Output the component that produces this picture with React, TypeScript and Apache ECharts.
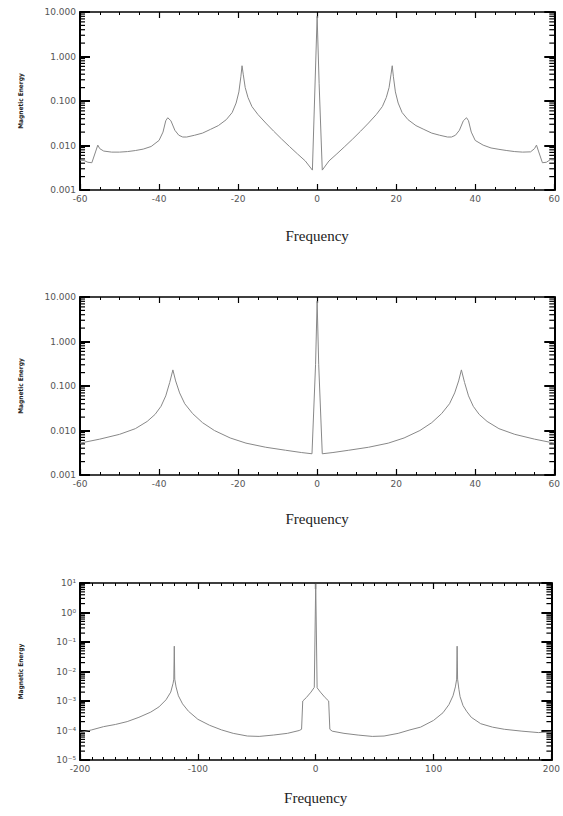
import React, { useEffect, useRef } from "react";
import * as echarts from "echarts";

// Panel 1 (top)
const P1_FREQ = [-60, -59, -58, -57, -56, -55.5, -55, -54, -52, -50, -48, -46, -44, -42, -40, -39, -38.3, -37.8, -37, -36, -35, -34, -33, -31, -29, -27, -25, -23, -21.5, -20.5, -19.8, -19.3, -19, -18.7, -18.2, -17.5, -16.5, -15, -13, -11, -9, -7, -5, -3, -1.2, 0, 0.5, 1.3, 3, 5, 7, 9, 11, 13, 15, 16.5, 17.5, 18.2, 18.7, 19, 19.3, 19.8, 20.5, 21.5, 23, 25, 27, 29, 31, 33, 34, 35, 36, 37, 37.8, 38.3, 39, 40, 42, 44, 46, 48, 50, 52, 54, 55, 55.5, 56, 57, 58, 59, 60];
const P1_ENERGY = [0.0047, 0.0046, 0.0042, 0.0041, 0.0075, 0.0102, 0.0085, 0.0075, 0.0071, 0.0071, 0.0073, 0.0077, 0.0083, 0.0095, 0.013, 0.02, 0.036, 0.042, 0.036, 0.022, 0.017, 0.0155, 0.0155, 0.017, 0.019, 0.023, 0.028, 0.038, 0.055, 0.09, 0.16, 0.35, 0.62, 0.4, 0.2, 0.12, 0.075, 0.05, 0.032, 0.021, 0.014, 0.0095, 0.0065, 0.0045, 0.0028, 8, 0.25, 0.0028, 0.0045, 0.0065, 0.0095, 0.014, 0.021, 0.032, 0.05, 0.075, 0.12, 0.2, 0.4, 0.62, 0.35, 0.16, 0.09, 0.055, 0.038, 0.028, 0.023, 0.019, 0.017, 0.0155, 0.0155, 0.017, 0.022, 0.036, 0.042, 0.036, 0.02, 0.013, 0.0102, 0.0088, 0.0082, 0.0077, 0.0073, 0.0071, 0.0072, 0.0085, 0.0102, 0.0075, 0.0041, 0.0042, 0.0048, 0.0047];

// Panel 2 (middle)
const P2_FREQ = [-60, -55, -50, -46, -43, -41, -39.5, -38.3, -37.3, -36.5, -35.8, -34.8, -33.5, -31.5, -29, -26, -22, -18, -13, -8, -4, -1.3, -0.4, 0, 0.4, 1.3, 4, 8, 13, 18, 22, 26, 29, 31.5, 33.5, 34.8, 35.8, 36.5, 37.3, 38.3, 39.5, 41, 43, 46, 50, 55, 60];
const P2_ENERGY = [0.0052, 0.0064, 0.0082, 0.011, 0.016, 0.023, 0.035, 0.06, 0.12, 0.23, 0.13, 0.07, 0.04, 0.024, 0.015, 0.01, 0.0068, 0.0052, 0.0042, 0.0036, 0.0032, 0.003, 0.3, 8, 0.3, 0.003, 0.0032, 0.0036, 0.0042, 0.0052, 0.0068, 0.01, 0.015, 0.024, 0.04, 0.07, 0.13, 0.23, 0.12, 0.06, 0.035, 0.023, 0.016, 0.011, 0.0082, 0.0064, 0.0052];

// Panel 3 (bottom)
const P3_FREQ = [-200, -190, -180, -170, -160, -150, -140, -133, -127, -123, -121, -120.4, -120, -119.6, -118.5, -116.5, -113, -108, -100, -90, -80, -70, -58, -48, -36, -24, -14, -12, -11, -8, -4, -1.2, 0, 1.2, 4, 8, 11, 12, 14, 24, 36, 48, 58, 70, 80, 89, 100, 108, 113, 116.5, 118.5, 119.6, 120, 120.4, 121.5, 122.5, 125, 128, 132, 140, 150, 160, 175, 189, 200];
const P3_ENERGY = [8.5e-5, 1.05e-4, 1.35e-4, 1.6e-4, 2.0e-4, 2.8e-4, 4.2e-4, 6.3e-4, 1.1e-3, 2.0e-3, 4.0e-3, 5.5e-3, 0.072, 5.5e-3, 3.0e-3, 1.5e-3, 8.0e-4, 4.5e-4, 2.4e-4, 1.5e-4, 1.05e-4, 8.0e-5, 6.5e-5, 6.3e-5, 7.0e-5, 8.0e-5, 1.0e-4, 1.1e-4, 1.0e-3, 1.3e-3, 2.0e-3, 2.9e-3, 9.5, 2.8e-3, 2.0e-3, 1.3e-3, 1.0e-3, 1.1e-4, 9.5e-5, 8.0e-5, 7.0e-5, 6.3e-5, 6.5e-5, 8.0e-5, 1.05e-4, 1.3e-4, 2.2e-4, 4.0e-4, 7.5e-4, 1.5e-3, 3.0e-3, 5.5e-3, 0.072, 5.5e-3, 2.5e-3, 1.4e-3, 7.0e-4, 4.5e-4, 2.8e-4, 1.7e-4, 1.3e-4, 1.1e-4, 9.5e-5, 8.5e-5, 9.0e-5];

const X_TITLE = "Frequency";
const Y_TITLE = "Magnetic Energy";
const SUP: Record<string, string> = { "-": "⁻", "0": "⁰", "1": "¹", "2": "²", "3": "³", "4": "⁴", "5": "⁵", "6": "⁶", "7": "⁷", "8": "⁸", "9": "⁹" };

const PANELS = [
  { freq: P1_FREQ, energy: P1_ENERGY, xMin: -60, xMax: 60, xInt: 20, xMinor: 4, yMin: 0.001, yMax: 10, fmt: "fixed", top: 12, height: 178, nameGap: 38 },
  { freq: P2_FREQ, energy: P2_ENERGY, xMin: -60, xMax: 60, xInt: 20, xMinor: 4, yMin: 0.001, yMax: 10, fmt: "fixed", top: 297, height: 178, nameGap: 36 },
  { freq: P3_FREQ, energy: P3_ENERGY, xMin: -200, xMax: 200, xInt: 100, xMinor: 10, yMin: 1e-5, yMax: 10, fmt: "pow", top: 583, height: 177, nameGap: 30 },
];

function supText(n: number) {
  return String(n).split("").map((c) => SUP[c] || c).join("");
}

export default function App() {
  const ref = useRef<HTMLDivElement>(null);
  useEffect(() => {
    document.body.style.margin = "0";
    const chart = echarts.init(ref.current!, null, { renderer: "svg" });
    const grid: any[] = [];
    const xAxis: any[] = [];
    const yAxis: any[] = [];
    const series: any[] = [];
    const labelStyle = { fontSize: 9, color: "#555", fontFamily: "DejaVu Sans" };
    PANELS.forEach((p, i) => {
      grid.push({ left: 80, top: p.top, width: 478, height: p.height });
      const xBase = {
        type: "value", gridIndex: i, min: p.xMin, max: p.xMax, interval: p.xInt,
        axisLine: { show: true, onZero: false, lineStyle: { color: "#000", width: 1.5 } },
        axisTick: { show: true, inside: true, length: 6, lineStyle: { color: "#000", width: 1.2 } },
        minorTick: { show: true, splitNumber: p.xMinor, length: 3, lineStyle: { color: "#000", width: 1 } },
        splitLine: { show: false },
      };
      xAxis.push({
        ...xBase, position: "bottom",
        axisLabel: { ...labelStyle, margin: 4, formatter: (v: number) => String(v) },
        name: X_TITLE, nameLocation: "middle", nameGap: p.nameGap,
        nameTextStyle: { fontFamily: "Liberation Serif", fontSize: 15, color: "#222" },
      });
      xAxis.push({ ...xBase, position: "top", axisLabel: { show: false } });
      const yBase = {
        type: "log", logBase: 10, gridIndex: i, min: p.yMin, max: p.yMax, interval: 1,
        axisLine: { show: true, onZero: false, lineStyle: { color: "#000", width: 2 } },
        axisTick: { show: true, inside: true, length: 10, lineStyle: { color: "#000", width: 2 } },
        splitLine: { show: false },
      };
      yAxis.push({
        ...yBase, position: "left",
        axisLabel: {
          ...labelStyle, margin: 4,
          formatter: (v: number) => {
            if (p.fmt === "fixed") return v.toFixed(3);
            return "10" + supText(Math.round(Math.log10(v)));
          },
        },
        name: Y_TITLE, nameLocation: "middle", nameRotate: 90, nameGap: 56,
        nameTextStyle: { fontSize: 6.5, fontWeight: "bold", color: "#222", fontFamily: "Liberation Sans Narrow, DejaVu Sans Condensed, sans-serif" },
      });
      yAxis.push({ ...yBase, position: "right", axisLabel: { show: false } });

      series.push({
        type: "line", xAxisIndex: i * 2, yAxisIndex: i * 2,
        data: p.freq.map((f, k) => [f, p.energy[k]]),
        showSymbol: false, symbol: "none", clip: true,
        lineStyle: { color: "#888", width: 1 },
      });
      // log minor ticks (2..9 per decade)
      const minors: number[][] = [];
      const e0 = Math.round(Math.log10(p.yMin));
      const e1 = Math.round(Math.log10(p.yMax));
      for (let e = e0; e < e1; e++) {
        for (let m = 2; m <= 9; m++) minors.push([p.xMin, m * Math.pow(10, e)]);
      }
      series.push({
        type: "custom", xAxisIndex: i * 2, yAxisIndex: i * 2, silent: true, clip: false,
        data: minors,
        renderItem: (params: any, api: any) => {
          const y = api.coord([api.value(0), api.value(1)])[1];
          const cs = params.coordSys;
          return {
            type: "group",
            children: [
              { type: "line", shape: { x1: cs.x, y1: y, x2: cs.x + 5, y2: y }, style: { stroke: "#000", lineWidth: 1.2 } },
              { type: "line", shape: { x1: cs.x + cs.width, y1: y, x2: cs.x + cs.width - 5, y2: y }, style: { stroke: "#000", lineWidth: 1.2 } },
            ],
          };
        },
      });
    });
    chart.setOption({ animation: false, backgroundColor: "#fff", grid, xAxis, yAxis, series });
    return () => chart.dispose();
  }, []);
  return <div ref={ref} style={{ width: 563, height: 816 }} />;
}
